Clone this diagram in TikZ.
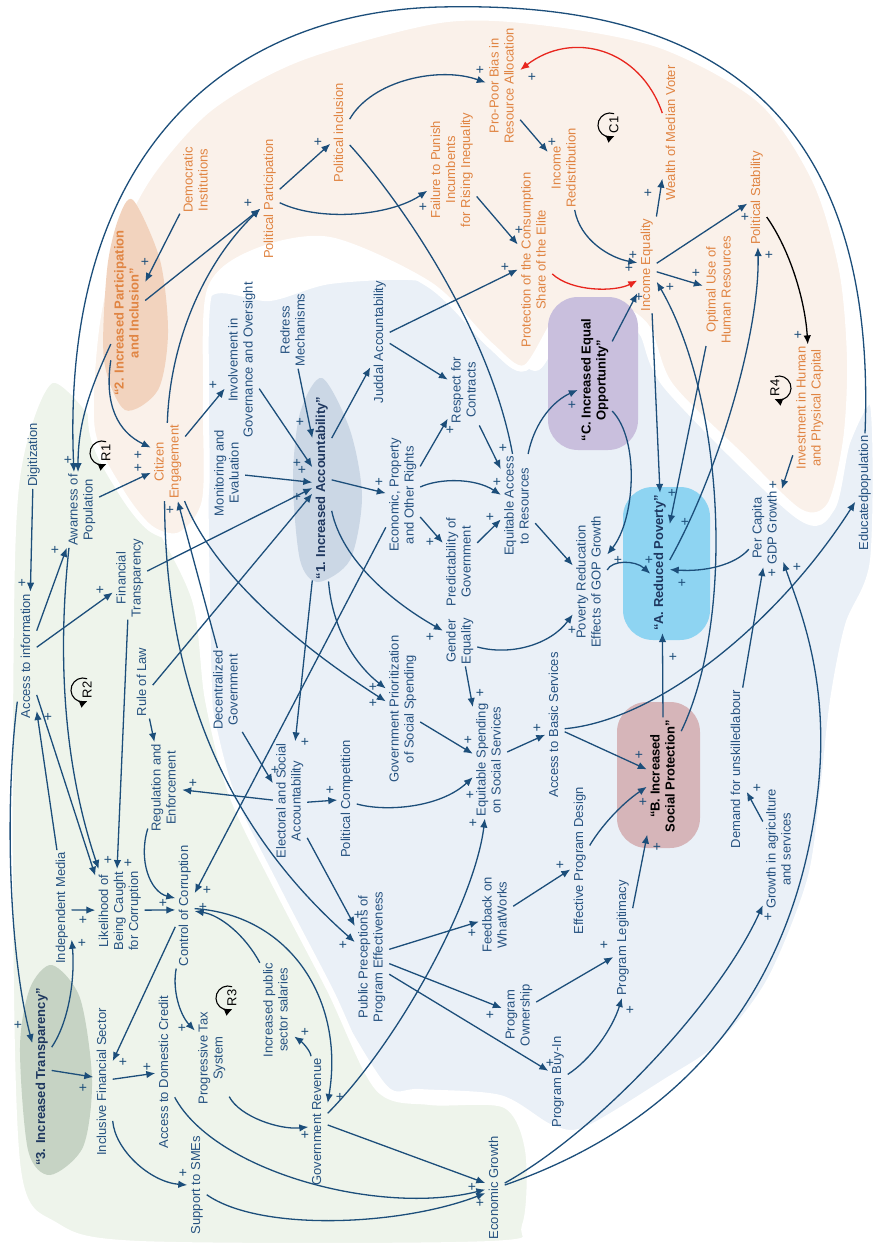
\documentclass[tikz,border=0pt]{standalone}
\usepackage{fontspec}
\setmainfont{Liberation Sans}
\usetikzlibrary{arrows.meta}
\definecolor{eblue}{RGB}{28,78,122}
\definecolor{tblue}{RGB}{38,82,128}
\definecolor{torange}{RGB}{224,132,66}
\definecolor{ered}{RGB}{232,38,30}
\definecolor{bgpeach}{RGB}{250,241,234}
\definecolor{bgblue}{RGB}{234,240,247}
\definecolor{bggreen}{RGB}{238,244,235}
\definecolor{blobtwo}{RGB}{242,211,190}
\definecolor{blobone}{RGB}{203,215,229}
\definecolor{blobC}{RGB}{201,191,221}
\definecolor{blobA}{RGB}{142,212,242}
\definecolor{blobB}{RGB}{214,181,185}
\definecolor{blobthree}{RGB}{198,211,196}
\definecolor{tdark}{RGB}{30,55,95}
\newcommand\rtxt[1]{\rotatebox{90}{\begin{tabular}{@{}c@{}}#1\end{tabular}}}
\newcommand\fs{\fontsize{13}{15}\selectfont}
\begin{document}
\begin{tikzpicture}[x=1pt,y=-1pt,
 lb/.style={inner sep=2pt,text=tblue,font=\fs},
 ol/.style={lb,text=torange},
 bl/.style={lb,font=\fs\bfseries,text=tdark},
 ln/.style={draw=eblue,line width=1.3pt},
 ar/.style={ln,-{Latex[length=9pt,width=7.5pt]}},
 pl/.style={text=eblue,font=\fontsize{14}{14}\selectfont,inner sep=0pt},
 bg/.style={draw=white,line width=6pt},
 lp/.style={draw=black,line width=1.1pt,-{Latex[length=8pt,width=8pt]}},
 lpt/.style={font=\fontsize{13}{13}\selectfont,text=black,inner sep=0pt}]
\fill[white] (0,0) rectangle (873,1244);
\useasboundingbox (0,0) rectangle (873,1244);
% background regions
\path[bg,fill=bgblue] plot[smooth cycle] coordinates {(207,297) (270,298) (330,281) (420,278) (458,302) (505,343) (535,368) (555,345) (600,318) (640,330) (668,388) (797,515) (832,508) (848,440) (873,405) (873,560) (848,625) (833,700) (823,790) (810,880) (770,980) (720,1045) (665,1082) (585,1130) (550,1127) (500,1098) (420,1092) (385,1088) (330,1000) (275,905) (232,810) (212,740) (207,600) (205,420)};
\path[bg,fill=bggreen] plot[smooth cycle] coordinates {(12,560) (22,450) (52,380) (100,425) (150,510) (195,600) (208,700) (232,795) (278,890) (330,990) (378,1088) (430,1102) (505,1105) (528,1150) (525,1225) (490,1244) (140,1244) (55,1225) (18,1170) (10,900)};
\path[bg,fill=bgpeach] plot[smooth cycle] coordinates {(92,430) (96,330) (115,245) (150,175) (210,108) (300,58) (440,20) (540,22) (660,45) (760,100) (815,180) (842,270) (850,360) (846,440) (830,505) (800,512) (740,455) (670,385) (645,325) (600,300) (560,315) (525,368) (490,345) (430,285) (330,240) (255,252) (210,290) (206,400) (205,500) (180,535) (150,528) (120,490)};
% blobs
\fill[blobtwo] plot[smooth cycle] coordinates {(133,200) (160,260) (168,333) (158,390) (125,410) (104,360) (107,270) (118,220)};
\fill[blobone] plot[smooth cycle] coordinates {(322,378) (350,430) (362,497) (350,560) (318,582) (300,560) (293,480) (300,413)};
\fill[blobthree] plot[smooth cycle] coordinates {(52,965) (80,998) (92,1080) (83,1147) (50,1175) (28,1150) (20,1047) (30,988)};
\fill[blobC,rounded corners=30pt] (548,297) rectangle (638,450);
\fill[blobA,rounded corners=30pt] (623,487) rectangle (710,640);
\fill[blobB,rounded corners=30pt] (617,702) rectangle (700,848);
% nodes
\node[ol] (demo) at (197,180) {\rtxt{Democratic\\Institutions}};
\node[ol] (ppart) at (270,199) {\rtxt{Political Participation}};
\node[ol] (pincl) at (340,133) {\rtxt{Political inclusion}};
\node[ol,font=\fs\bfseries] (inc2) at (128,313) {\rtxt{“2. Increased Participation\\and Inclusion”}};
\node[ol] (fail) at (452,170) {\rtxt{Failure to Punish\\Incumbents\\for Rising Inequality}};
\node[ol] (probias) at (503,86) {\rtxt{Pro-Poor Bias in\\Resource Allocation}};
\node[ol] (incred) at (565,168) {\rtxt{Income\\Redistribution}};
\node[ol] (wealth) at (672,133) {\rtxt{Wealth of Median Voter}};
\node[ol] (protect) at (535,260) {\rtxt{Protection of the Consumption\\Share of the Elite}};
\node[ol] (ineq) at (647,265) {\rtxt{Income Equality}};
\node[ol] (optimal) at (720,290) {\rtxt{Optimal Use of\\Human Resources}};
\node[ol] (polstab) at (757,198) {\rtxt{Political Stability}};
\node[ol] (invest) at (810,408) {\rtxt{Investment in Human\\and Physical Capital}};
\node[lb] (edu) at (865,493) {\rtxt{Educatedpopulation}};
\node[lb] (digit) at (34,455) {\rtxt{Digitization}};
\node[lb] (aware) at (82,510) {\rtxt{Awarness of\\Population}};
\node[ol] (citizen) at (168,462) {\rtxt{Citizen\\Engagement}};
\node[lb] (access) at (27,656) {\rtxt{Access to information}};
\node[lb] (fintrans) at (130,578) {\rtxt{Financial\\Transparency}};
\node[lb] (rule) at (143,682) {\rtxt{Rule of Law}};
\node[lb] (decent) at (227,690) {\rtxt{Decentralized\\Government}};
\node[lb] (monit) at (228,473) {\rtxt{Monitoring and\\Evaluation}};
\node[lb] (involve) at (242,360) {\rtxt{Involvement in\\Governance and Oversight}};
\node[lb] (redress) at (294,330) {\rtxt{Redress\\Mechanisms}};
\node[bl] (acc1) at (322,488) {\rtxt{“1. Increased Accountability”}};
\node[lb] (judd) at (380,342) {\rtxt{Juddal Accountability}};
\node[lb] (econ) at (403,495) {\rtxt{Economic, Property\\and Other Rights}};
\node[lb] (respect) at (465,390) {\rtxt{Respect for\\Contracts}};
\node[lb] (predict) at (460,562) {\rtxt{Predictability of\\Government}};
\node[lb] (gender) at (460,641) {\rtxt{Gender\\Equality}};
\node[lb] (eqacc) at (518,506) {\rtxt{Equitable Access\\to Resources}};
\node[bl,text=black] (oppC) at (595,380) {\rtxt{“C. Increased Equal\\Opportunity”}};
\node[lb] (povred) at (590,582) {\rtxt{Poverty Reducation\\Effects of GOP Growth}};
\node[bl] (povA) at (660,563) {\rtxt{“A. Reduced Poverty”}};
\node[lb] (percap) at (766,528) {\rtxt{Per Capita\\GDP Growth}};
\node[lb] (basic) at (555,725) {\rtxt{Access to Basic Services}};
\node[lb] (eqspend) at (490,760) {\rtxt{Equitable Spending\\on Social Services}};
\node[lb] (govpri) at (403,709) {\rtxt{Government Prioritization\\of Social Spending}};
\node[lb] (elect) at (290,801) {\rtxt{Electoral and Social\\Accountability}};
\node[lb] (polcomp) at (347,799) {\rtxt{Political Competition}};
\node[lb] (regul) at (165,788) {\rtxt{Regulation and\\Enforcement}};
\node[lb] (likely) at (120,911) {\rtxt{Likelihood of\\Being Caught\\for Corruption}};
\node[lb] (indmed) at (62,908) {\rtxt{Independent Media}};
\node[lb] (control) at (185,906) {\rtxt{Control of Corruption}};
\node[bl] (trans3) at (42,1077) {\rtxt{“3. Increased Transparency”}};
\node[lb] (inclfin) at (103,1082) {\rtxt{Inclusive Financial Sector}};
\node[lb] (credit) at (165,1072) {\rtxt{Access to Domestic Credit}};
\node[lb] (progtax) at (212,1058) {\rtxt{Progressive Tax\\System}};
\node[lb] (salary) at (277,1010) {\rtxt{Increased public\\sector salaries}};
\node[lb] (govrev) at (318,1122) {\rtxt{Government Revenue}};
\node[lb] (sme) at (197,1185) {\rtxt{Support to SMEs}};
\node[lb] (public) at (372,957) {\rtxt{Public Preceptions of\\Program Effectiveness}};
\node[lb] (econgr) at (495,1188) {\rtxt{Economic Growth}};
\node[lb] (feedback) at (496,915) {\rtxt{Feedback on\\WhatWorks}};
\node[lb] (owner) at (519,1015) {\rtxt{Program\\Ownership}};
\node[lb] (buyin) at (558,1082) {\rtxt{Program Buy-In}};
\node[lb] (effdes) at (580,861) {\rtxt{Effective Program Design}};
\node[lb] (legit) at (623,938) {\rtxt{Program Legitimacy}};
\node[bl,text=black] (protB) at (664,776) {\rtxt{“B. Increased\\Social Protection”}};
\node[lb] (demand) at (737,769) {\rtxt{Demand for unskilledlabour}};
\node[lb] (growag) at (780,849) {\rtxt{Growth in agriculture\\and services}};
% loop markers
\node[lpt] (r1) at (106,453) {\rotatebox{90}{R1}};
\node[lpt] (r2) at (87,690) {\rotatebox{90}{R2}};
\node[lpt] (r3) at (232,998) {\rotatebox{90}{R3}};
\node[lpt] (r4) at (775,388) {\rotatebox{90}{R4}};
\node[lpt] (c1) at (614,125) {\rotatebox{90}{C1}};
\foreach \n in {r1,r2,r3,c1}
  \draw[lp] ([shift={(-4pt,0pt)}]\n.center) ++(70:12pt) arc[start angle=70,end angle=292,radius=12pt];
\draw[lp] ([shift={(4pt,0pt)}]r4.center) ++(110:12pt) arc[start angle=110,end angle=-112,radius=12pt];
% connectors
\draw[ar] (edu.90) .. controls (880,60) and (650,2) .. (440,7) .. controls (230,12) and (60,150) .. (aware.102);
\draw[ar] (inc2.241) .. controls (92,385) and (78,420) .. (aware.96);
\draw[ar] (inc2.250) .. controls (104,405) and (118,432) .. (citizen.140);
\draw[ar] (demo.243) -- (inc2.61);
\draw[ar] (inc2.36) -- (ppart.225);
\draw[ar] (citizen.91) .. controls (170,340) and (205,262) .. (ppart.225);
\draw[ar] (ppart.45) -- (pincl.228);
\draw[ar] (ppart.339) .. controls (320,222) and (390,216) .. (fail.220);
\draw[ar] (pincl.55) .. controls (372,80) and (440,66) .. (probias.169);
\draw[ln] (pincl.309) .. controls (400,200) and (490,330) .. (eqacc.96);
\draw[ar] (probias.297) -- (incred.137);
\draw[ar,draw=ered] (wealth.116) .. controls (640,48) and (572,30) .. (probias.43);
\draw[ar] (fail.313) -- (protect.138);
\draw[ar] (judd.45) -- (protect.209);
\draw[ar,draw=ered] (protect.321) .. controls (572,292) and (615,292) .. (ineq.238);
\draw[ar] (incred.283) .. controls (580,240) and (610,258) .. (ineq.167);
\draw[ar] (ineq.79) -- (wealth.258);
\draw[ar] (ineq.10) -- (polstab.210);
\draw[ar] (ineq.325) -- (optimal.166);
\draw[ar] (oppC.66) -- (ineq.251);
\draw[ar] (ineq.276) -- (povA.90);
\draw[ar] (optimal.256) -- (povA.76);
\draw[ar] (protB.69) .. controls (735,620) and (725,400) .. (ineq.300);
\draw[ar] (povA.17) .. controls (720,470) and (760,330) .. (polstab.271);
\draw[ar,draw=black] (polstab.297) .. controls (790,250) and (805,300) .. (invest.92);
\draw[ar] (invest.250) -- (percap.68);
\draw[ar] (percap.231) .. controls (735,565) and (705,572) .. (povA.326);
\draw[ar] (povred.35) .. controls (612,560) and (635,560) .. (povA.228);
\draw[ar] (oppC.299) .. controls (640,440) and (635,520) .. (povred.58);
\draw[ar] (eqacc.79) .. controls (535,420) and (555,400) .. (oppC.210);
\draw[ar] (eqacc.315) -- (povred.136);
\draw[ar] (gender.341) .. controls (510,656) and (550,645) .. (povred.242);
\draw[ar] (gender.282) -- (eqspend.108);
\draw[ar] (respect.292) -- (eqacc.115);
\draw[ar] (predict.48) -- (eqacc.218);
\draw[ar] (econ.25) .. controls (440,478) and (475,478) .. (eqacc.147);
\draw[ar] (econ.59) -- (respect.239);
\draw[ar] (econ.308) -- (predict.132);
\draw[ar] (judd.352) -- (respect.149);
\draw[ar] (acc1.79) -- (judd.249);
\draw[ar] (acc1.40) -- (econ.174);
\draw[ar] (redress.276) -- (acc1.101);
\draw[ar] (involve.301) -- (acc1.115);
\draw[ar] (monit.353) -- (acc1.150);
\draw[ar] (fintrans.22) -- (acc1.180);
\draw[ar] (rule.342) -- (acc1.210);
\draw[ar] (citizen.56) -- (involve.239);
\draw[ar] (acc1.264) -- (elect.85);
\draw[ar] (acc1.274) .. controls (332,625) and (352,662) .. (govpri.130);
\draw[ar] (citizen.293) .. controls (212,570) and (290,640) .. (govpri.156);
\draw[ar] (acc1.293) .. controls (342,560) and (392,602) .. (gender.149);
\draw[ar] (decent.103) -- (citizen.284);
\draw[ar] (decent.290) -- (elect.134);
\draw[ar] (econ.242) -- (control.53);
\draw[ar] (govpri.323) -- (eqspend.160);
\draw[ar] (polcomp.333) .. controls (385,812) and (440,808) .. (eqspend.225);
\draw[ar] (elect.356) -- (polcomp.186);
\draw[ar] (elect.177) -- (regul.354);
\draw[ar] (elect.295) -- (public.119);
\draw[ar] (citizen.265) .. controls (165,650) and (205,810) .. (public.139);
\draw[ar] (indmed.95) -- (access.280);
\draw[ar] (access.284) -- (likely.125);
\draw[ar] (aware.251) .. controls (58,650) and (62,760) .. (likely.117);
\draw[ar] (fintrans.267) -- (likely.94);
\draw[ar] (access.258) .. controls (5,800) and (8,950) .. (trans3.106);
\draw[ar] (access.69) -- (aware.248);
\draw[ar] (access.42) -- (fintrans.220);
\draw[ar] (digit.268) -- (access.87);
\draw[ar] (aware.37) -- (citizen.212);
\draw[ar] (rule.280) -- (regul.103);
\draw[ar] (regul.247) .. controls (138,860) and (150,892) .. (control.141);
\draw[ar] (likely.2) -- (control.202);
\draw[ar] (indmed.349) -- (likely.178);
\draw[ar] (trans3.72) .. controls (70,1020) and (75,975) .. (indmed.287);
\draw[ar] (trans3.34) -- (inclfin.153);
\draw[ar] (control.245) -- (inclfin.65);
\draw[ar] (inclfin.16) -- (credit.187);
\draw[ar] (inclfin.284) .. controls (115,1150) and (150,1182) .. (sme.180);
\draw[ar] (sme.315) .. controls (260,1232) and (400,1226) .. (econgr.208);
\draw[ar] (credit.291) .. controls (215,1172) and (380,1216) .. (econgr.189);
\draw[ar] (govrev.343) -- (econgr.153);
\draw[ar] (control.262) .. controls (172,990) and (180,1015) .. (progtax.122);
\draw[ar] (progtax.294) .. controls (240,1117) and (280,1130) .. (govrev.207);
\draw[ar] (govrev.96) .. controls (310,1050) and (302,1042) .. (salary.303);
\draw[ar] (salary.110) .. controls (245,935) and (220,915) .. (control.332);
\draw[ar] (control.345) .. controls (290,915) and (345,1000) .. (govrev.63);
\draw[ar] (govrev.42) .. controls (400,1040) and (475,900) .. (eqspend.265);
\draw[ar] (public.24) -- (feedback.201);
\draw[ar] (public.339) -- (owner.158);
\draw[ar] (public.315) -- (buyin.131);
\draw[ar] (feedback.27) -- (effdes.221);
\draw[ar] (owner.37) -- (legit.243);
\draw[ar] (buyin.38) .. controls (590,1060) and (612,1030) .. (legit.269);
\draw[ar] (effdes.58) .. controls (600,828) and (620,805) .. (protB.212);
\draw[ar] (legit.72) -- (protB.254);
\draw[ar] (basic.325) -- (protB.159);
\draw[ar] (basic.339) .. controls (660,720) and (780,620) .. (edu.222);
\draw[ar] (eqspend.25) -- (basic.225);
\draw[ar] (protB.91) -- (povA.272);
\draw[ar] (growag.122) -- (demand.293);
\draw[ar] (demand.86) -- (percap.266);
\draw[ar] (econgr.27) .. controls (600,1130) and (720,1000) .. (growag.253);
\draw[ar] (econgr.17) .. controls (720,1110) and (800,950) .. (818,790) .. controls (830,680) and (800,610) .. (percap.297);
% polarity signs
\foreach \x/\y [count=\i] in {145/262, 248/203, 318/142, 423/207, 480/70, 552/142, 532/77, 519/230, 505/267, 629/268, 633/255, 648/193, 745/217, 696/273, 639/297, 670/287, 672/493, 685/522, 769/255, 798/335, 773/485, 682/583, 649/560, 618/560, 572/405, 572/630, 480/693, 490/517, 497/482, 503/448, 450/430, 430/542, 379/482, 300/422, 297/463, 302/470, 297/497, 213/385, 305/742, 373/687, 373/703, 430/637, 170/510, 275/770, 207/890, 468/740, 470/795, 330/790, 193/783, 358/915, 343/945, 48/717, 108/860, 128/863, 18/1025, 55/550, 100/590, 22/583, 138/468, 138/455, 68/460, 163/903, 83/920, 82/943, 83/1088, 123/1062, 147/1067, 183/1173, 472/1187, 480/1203, 182/1028, 305/1135, 305/1032, 203/907, 340/1097, 473/823, 472/933, 490/1015, 550/1063, 560/865, 604/945, 630/1010, 643/802, 657/847, 639/755, 537/728, 673/657, 757/788, 772/573, 768/917, 797/567}
  \node[pl] (pl\i) at (\x,\y) {+};
\end{tikzpicture}
\end{document}
